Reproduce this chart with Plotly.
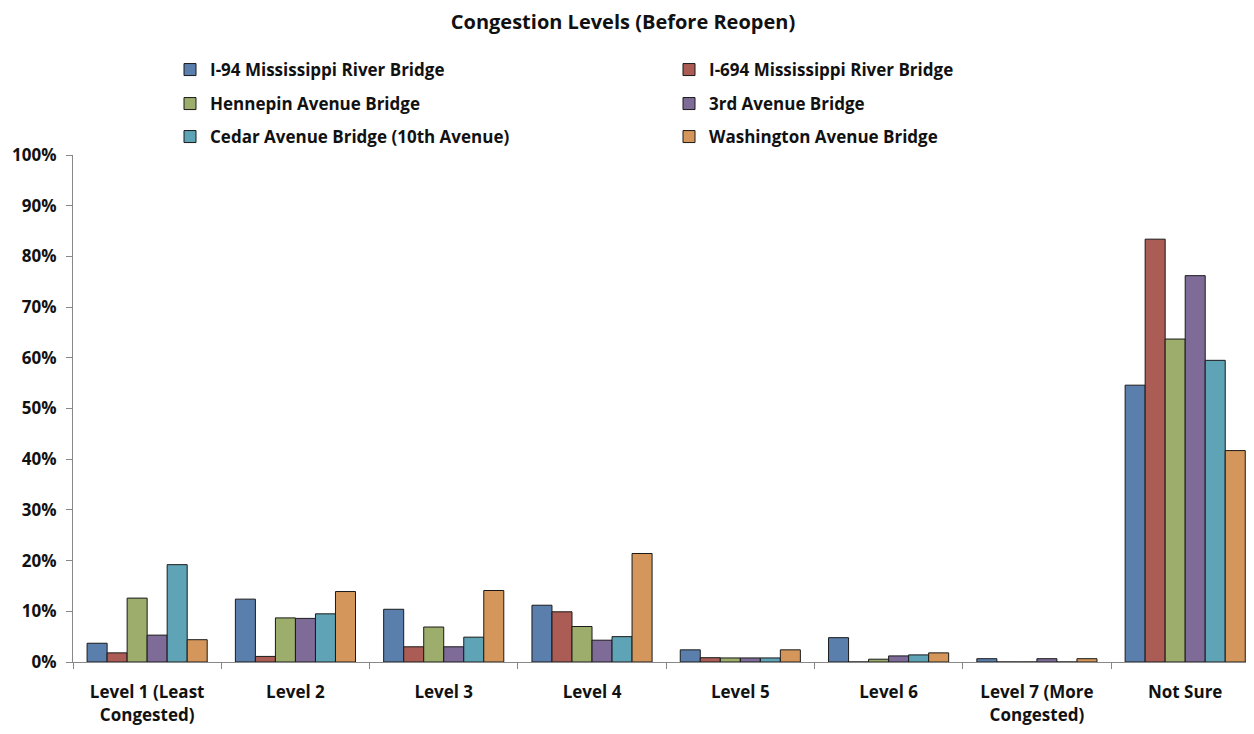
import plotly.graph_objects as go

categories = ["Level 1 (Least<br>Congested)", "Level 2", "Level 3", "Level 4",
              "Level 5", "Level 6", "Level 7 (More<br>Congested)", "Not Sure"]

series_names = ["I-94 Mississippi River Bridge", "I-694 Mississippi River Bridge",
                "Hennepin Avenue Bridge", "3rd Avenue Bridge",
                "Cedar Avenue Bridge (10th Avenue)", "Washington Avenue Bridge"]

i94 = [3.7, 12.4, 10.4, 11.2, 2.4, 4.8, 0.65, 54.6]
i694 = [1.8, 1.1, 3.0, 9.9, 0.85, 0.0, 0.0, 83.4]
hennepin = [12.6, 8.7, 6.9, 7.0, 0.8, 0.55, 0.0, 63.7]
third_ave = [5.3, 8.6, 3.0, 4.3, 0.8, 1.2, 0.65, 76.2]
cedar = [19.2, 9.5, 4.9, 5.0, 0.8, 1.4, 0.0, 59.5]
washington = [4.4, 13.9, 14.1, 21.4, 2.4, 1.8, 0.65, 41.7]

colors = ["#5B7FAD", "#AA5C55", "#9CAD6C", "#7E6B98", "#5FA3B6", "#D4965A"]
legend_ids = ["legend", "legend", "legend2", "legend2", "legend3", "legend3"]

all_series = [i94, i694, hennepin, third_ave, cedar, washington]

FONT = "Open Sans"

fig = go.Figure()
for name, vals, col, lg in zip(series_names, all_series, colors, legend_ids):
    fig.add_trace(go.Bar(
        x=categories, y=[v / 100 for v in vals], name=name,
        marker=dict(color=col, line=dict(color="#1a1a1a", width=1)),
        legend=lg,
    ))

# page body adds an 8px offset; figure sized so the plot reaches the window edge
OFF = 8
W, H = 1254 - OFF, 734 - OFF
ml, mr, mt, mb = 73 - OFF, 0, 155 - OFF, 734 - 662
ph = H - mt - mb
pw = W - ml - mr


def ypaper(py):
    return (H - mb - (py - OFF)) / ph


def xpaper(px):
    return ((px - OFF) - ml) / pw


leg_common = dict(orientation="h", entrywidth=454, entrywidthmode="pixels",
                  xanchor="left", yanchor="middle", x=xpaper(170),
                  font=dict(family=FONT, size=17, color="#111", weight="bold"),
                  bgcolor="rgba(0,0,0,0)", traceorder="normal")

tickfont = dict(family=FONT, size=17, color="#111", weight="bold")

fig.update_layout(
    width=W, height=H,
    margin=dict(l=ml, r=mr, t=mt, b=mb, autoexpand=False),
    paper_bgcolor="white", plot_bgcolor="white",
    barmode="group", bargap=0.19, bargroupgap=0,
    title=dict(text="Congestion Levels (Before Reopen)", x=(623 - OFF) / W, xanchor="center",
               y=1 - (22 - OFF) / H, yanchor="middle",
               font=dict(family=FONT, size=20, color="#111", weight="bold")),
    legend=dict(leg_common, y=ypaper(70)),
    legend2=dict(leg_common, y=ypaper(104)),
    legend3=dict(leg_common, y=ypaper(137)),
    xaxis=dict(type="category", range=[-0.5, 7.464], tickson="boundaries",
               ticks="outside", ticklen=6, tickcolor="#888", showline=True,
               linecolor="#888", linewidth=1, showgrid=False,
               ticklabelstandoff=15, tickfont=tickfont),
    yaxis=dict(range=[0, 1], dtick=0.1, tickformat=".0%", ticks="outside",
               ticklen=6, tickcolor="#888", showline=True, linecolor="#888",
               linewidth=1, showgrid=False, zeroline=False,
               ticklabelstandoff=6, tickfont=tickfont),
    showlegend=True,
)

fig.write_html("out.html")
